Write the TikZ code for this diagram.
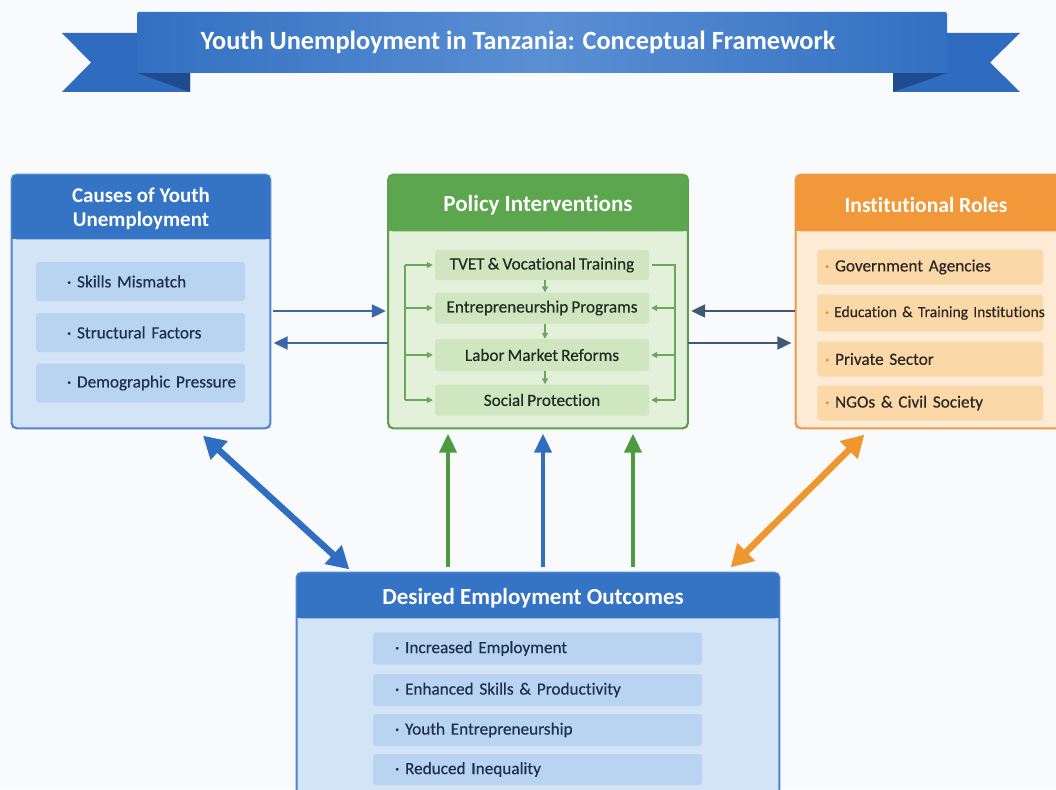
\documentclass[tikz,border=0pt]{standalone}
\usepackage{fontspec}
\setmainfont{Carlito}[Ligatures=NoCommon]
\newfontfamily\listfont{Carlito}[Ligatures=NoCommon, FakeBold=0.35, WordSpace=0.8]
\usetikzlibrary{arrows.meta,calc}

\definecolor{bg}{HTML}{F9FAFC}
\definecolor{bannerA}{HTML}{3370C2}
\definecolor{bannerB}{HTML}{5A8FD3}
\definecolor{bannerT}{HTML}{2F6BBE}
\definecolor{bannerF}{HTML}{1E4C8E}
\definecolor{blueHead}{HTML}{3573C5}
\definecolor{blueBody}{HTML}{D3E4F6}
\definecolor{blueItem}{HTML}{B8D4F0}
\definecolor{blueLine}{HTML}{4F86CC}
\definecolor{blueText}{HTML}{1D2F4F}
\definecolor{greenHead}{HTML}{5CA64D}
\definecolor{greenBody}{HTML}{E3F1DA}
\definecolor{greenItem}{HTML}{CFE6C1}
\definecolor{greenLine}{HTML}{5E9D50}
\definecolor{greenText}{HTML}{212B20}
\definecolor{greenArrow}{HTML}{4E9A40}
\definecolor{smallArrow}{HTML}{6AA95C}
\definecolor{orangeHead}{HTML}{F1983A}
\definecolor{orangeBody}{HTML}{FDEBD5}
\definecolor{orangeItem}{HTML}{FBD8A7}
\definecolor{orangeLine}{HTML}{EA9A48}
\definecolor{orangeText}{HTML}{2A2622}
\definecolor{orangeDot}{HTML}{E8892C}
\definecolor{orangeArrow}{HTML}{F0962F}
\definecolor{blueArrow}{HTML}{2F6EC0}
\definecolor{slateA}{HTML}{3A67A6}
\definecolor{slateB}{HTML}{3F5975}

\begin{document}
\begin{tikzpicture}[x=1pt,y=-1pt,
  panel/.style 2 args={draw=#1, fill=#2, line width=1.3pt, rounded corners=5pt, inner sep=0pt},
  headtext/.style={text=white, font=\fontsize{#1}{24}\selectfont\bfseries, align=center, inner sep=0pt},
  listitem/.style={fill=#1, rounded corners=3pt, inner sep=0pt, minimum height=35pt,
    font=\fontsize{17.2}{20}\selectfont\listfont},
  lefttext/.style={text width=#1, align=left, inner xsep=5pt},
  thinarrow/.style={line width=2pt, -{Triangle[length=14pt,width=13pt]}},
  bigarrow/.style={line width=6.5pt, {Triangle[length=22pt,width=24pt]}-{Triangle[length=22pt,width=24pt]}},
  uparrow/.style={line width=4pt, -{Triangle[length=19pt,width=17pt]}},
  minorarrow/.style={smallArrow, line width=1.4pt, -{Triangle[length=6pt,width=6pt]}},
]
\useasboundingbox[fill=bg] (0,0) rectangle (1056,789);

% ---------- title ribbon ----------
\fill[bannerT] (62,33) -- (190,33) -- (190,92) -- (62,92) -- (91,62.5) -- cycle;
\fill[bannerT] (1020,33) -- (893,33) -- (893,92) -- (1020,92) -- (990,62.5) -- cycle;
\fill[bannerF] (137,73) -- (190,73) -- (190,92) -- cycle;
\fill[bannerF] (947,73) -- (893,73) -- (893,92) -- cycle;
\shade[left color=bannerA, right color=bannerA, middle color=bannerB, rounded corners=2pt]
  (137,12) rectangle (947,73);
\node[text=white, font=\fontsize{26.3}{30}\selectfont\bfseries, inner sep=0pt] (title)
  at (518,42) {Youth Unemployment in Tanzania: Conceptual Framework};

% ---------- panels ----------
\node[panel={blueLine}{blueBody}, minimum width=258pt, minimum height=253pt] (causes) at (141,301.5) {};
\node[panel={greenLine}{greenBody}, minimum width=299pt, minimum height=253pt] (policy) at (538,301.5) {};
\node[panel={orangeLine}{orangeBody}, minimum width=268pt, minimum height=253pt] (inst) at (930,301.5) {};
\node[panel={blueLine}{blueBody}, minimum width=482pt, minimum height=240pt] (outcomes) at (538,693) {};

% header bands (rounded on top, square at the bottom)
\fill[blueHead, rounded corners=5pt] (causes.north west) rectangle ($(causes.north east)+(0,65)$);
\fill[blueHead] ($(causes.north west)+(0,55)$) rectangle ($(causes.north east)+(0,65)$);
\fill[greenHead, rounded corners=5pt] (policy.north west) rectangle ($(policy.north east)+(0,57)$);
\fill[greenHead] ($(policy.north west)+(0,47)$) rectangle ($(policy.north east)+(0,57)$);
\fill[orangeHead, rounded corners=5pt] (inst.north west) rectangle ($(inst.north east)+(0,57)$);
\fill[orangeHead] ($(inst.north west)+(0,47)$) rectangle ($(inst.north east)+(0,57)$);
\fill[blueHead, rounded corners=5pt] (outcomes.north west) rectangle ($(outcomes.north east)+(0,46)$);
\fill[blueHead] ($(outcomes.north west)+(0,36)$) rectangle ($(outcomes.north east)+(0,46)$);

% panel outlines on top of the bands
\draw[blueLine, line width=1.3pt, rounded corners=5pt] (causes.south west) rectangle (causes.north east);
\draw[greenLine, line width=1.3pt, rounded corners=5pt] (policy.south west) rectangle (policy.north east);
\draw[orangeLine, line width=1.3pt, rounded corners=5pt] (inst.south west) rectangle (inst.north east);
\draw[blueLine, line width=1.3pt, rounded corners=5pt] (outcomes.south west) rectangle (outcomes.north east);

% header titles
\node[headtext=21] (causesT) at (141,208.5) {Causes of Youth\\Unemployment};
\node[headtext=23] (policyT) at (538,205) {Policy Interventions};
\node[headtext=21.6] (instT) at (926,205) {Institutional Roles};
\node[headtext=23] (outcomesT) at (533,598) {Desired Employment Outcomes};

% ---------- causes list ----------
\node[listitem=blueItem, lefttext=199pt, minimum height=39pt, text=blueText] (c1) at (140.5,281.5) {\mbox{\hspace*{26pt}\textperiodcentered\ Skills Mismatch}};
\node[listitem=blueItem, lefttext=199pt, minimum height=39pt, text=blueText] (c2) at (140.5,332.5) {\mbox{\hspace*{26pt}\textperiodcentered\ Structural Factors}};
\node[listitem=blueItem, lefttext=199pt, minimum height=39pt, text=blueText] (c3) at (140.5,383) {\mbox{\hspace*{26pt}\textperiodcentered\ Demographic Pressure}};

% ---------- policy list ----------
\node[listitem=greenItem, minimum width=214pt, minimum height=30pt, text=greenText] (p1) at (542,265) {TVET \& Vocational Training};
\node[listitem=greenItem, minimum width=214pt, minimum height=31pt, text=greenText] (p2) at (542,308) {Entrepreneurship Programs};
\node[listitem=greenItem, minimum width=214pt, minimum height=32pt, text=greenText] (p3) at (542,355) {Labor Market Reforms};
\node[listitem=greenItem, minimum width=214pt, minimum height=31pt, text=greenText] (p4) at (542,400) {Social Protection};

\coordinate (lb) at (405,265);
\coordinate (rb) at (675,265);
\draw[smallArrow, line width=1.4pt] (lb |- p1.west) -- (lb |- p4.west);
\foreach \n in {p1,p2,p3,p4}
  \draw[minorarrow] (lb |- \n.west) -- ([xshift=-2pt]\n.west);
\draw[smallArrow, line width=1.4pt] ([xshift=3pt]p1.east) -- (rb |- p1.east) -- (rb |- p4.east);
\foreach \n in {p2,p3,p4}
  \draw[minorarrow] (rb |- \n.east) -- ([xshift=2pt]\n.east);
\draw[minorarrow] ([xshift=3pt]p1.south) -- ([xshift=3pt]p2.north);
\draw[minorarrow] ([xshift=3pt]p2.south) -- ([xshift=3pt]p3.north);
\draw[minorarrow] ([xshift=3pt]p3.south) -- ([xshift=3pt]p4.north);

% ---------- institutional list ----------
\node[listitem=orangeItem, lefttext=216pt, text=orangeText] (i1) at (930,267) {\mbox{\hspace*{3pt}{\color{orangeDot}\textperiodcentered}\ Government Agencies}};
\node[listitem=orangeItem, lefttext=216pt, minimum height=37pt, text=orangeText, font=\fontsize{15.6}{20}\selectfont\listfont] (i2) at (930,313) {\mbox{\hspace*{3pt}{\color{orangeDot}\textperiodcentered}\ Education \& Training Institutions}};
\node[listitem=orangeItem, lefttext=216pt, text=orangeText] (i3) at (930,359) {\mbox{\hspace*{3pt}{\color{orangeDot}\textperiodcentered}\ Private Sector}};
\node[listitem=orangeItem, lefttext=216pt, text=orangeText] (i4) at (930,403) {\mbox{\hspace*{3pt}{\color{orangeDot}\textperiodcentered}\ NGOs \& Civil Society}};

% ---------- outcomes list ----------
\node[listitem=blueItem, lefttext=319pt, minimum height=32pt, text=blueText] (o1) at (537.5,648.5) {\mbox{\hspace*{17pt}\textperiodcentered\ Increased Employment}};
\node[listitem=blueItem, lefttext=319pt, minimum height=32pt, text=blueText] (o2) at (537.5,690) {\mbox{\hspace*{17pt}\textperiodcentered\ Enhanced Skills \& Productivity}};
\node[listitem=blueItem, lefttext=319pt, minimum height=32pt, text=blueText] (o3) at (537.5,730) {\mbox{\hspace*{17pt}\textperiodcentered\ Youth Entrepreneurship}};
\node[listitem=blueItem, lefttext=319pt, minimum height=31pt, text=blueText] (o4) at (537.5,769.5) {\mbox{\hspace*{17pt}\textperiodcentered\ Reduced Inequality}};

% ---------- connectors between panels ----------
\coordinate (r1) at (0,311);
\coordinate (r2) at (0,343);
\draw[thinarrow, slateA, shorten <=2pt, shorten >=2pt] (causes.east |- r1) -- (policy.west |- r1);
\draw[thinarrow, slateA, shorten <=0pt, shorten >=3pt] (policy.west |- r2) -- (causes.east |- r2);
\draw[thinarrow, slateB, shorten >=3pt] (inst.west |- r1) -- (policy.east |- r1);
\draw[thinarrow, slateB, shorten >=4pt] (policy.east |- r2) -- (inst.west |- r2);

\draw[bigarrow, blueArrow] ($(causes.south)+(62,7)$) -- ($(outcomes.north west)+(53,-3)$);
\draw[bigarrow, orangeArrow] ($(inst.south west)+(69,6)$) -- ($(outcomes.north east)+(-49,-5)$);

\draw[uparrow, greenArrow] ($(outcomes.north)+(-90,-5)$) -- ($(policy.south)+(-90,5)$);
\draw[uparrow, blueArrow] ($(outcomes.north)+(5,-5)$) -- ($(policy.south)+(5,5)$);
\draw[uparrow, greenArrow] ($(outcomes.north)+(95,-5)$) -- ($(policy.south)+(95,5)$);
\end{tikzpicture}
\end{document}
